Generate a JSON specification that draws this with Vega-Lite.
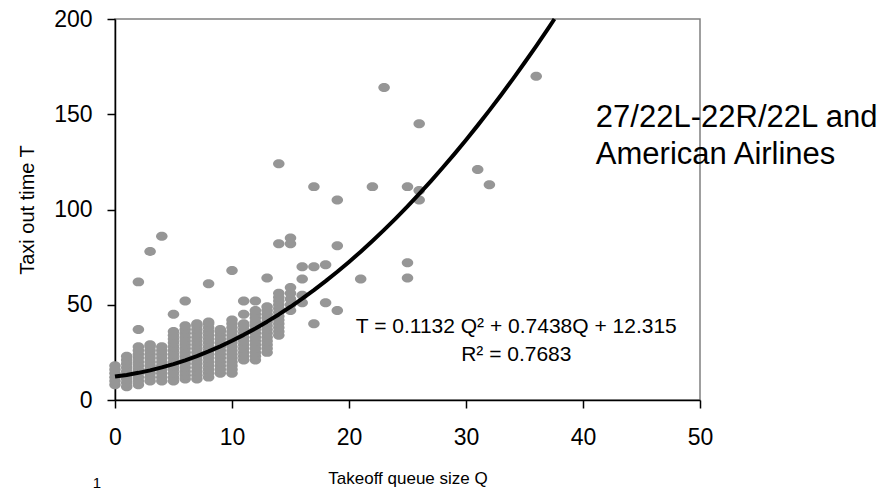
{
  "$schema": "https://vega.github.io/schema/vega-lite/v6.json",
  "width": 585,
  "height": 381,
  "autosize": {"type": "none"},
  "padding": {"left": 115, "top": 19, "right": 186, "bottom": 91},
  "background": "white",
  "config": {
    "font": "Liberation Sans",
    "view": {"stroke": "#808080", "strokeWidth": 1.5},
    "axis": {
      "domainColor": "black", "domainWidth": 1.5,
      "tickColor": "black", "tickWidth": 1.5, "tickSize": 8,
      "grid": false,
      "labelFont": "Liberation Sans", "labelFontSize": 23, "labelColor": "black",
      "titleFont": "Liberation Sans", "titleFontSize": 17, "titleFontWeight": "normal", "titleColor": "black"
    }
  },
  "layer": [
    {
      "data": {"values": [
        {"Q":0,"T":8},{"Q":0,"T":10},{"Q":0,"T":12},{"Q":0,"T":14},{"Q":0,"T":16},{"Q":0,"T":18},
        {"Q":1,"T":7},{"Q":1,"T":9},{"Q":1,"T":11},{"Q":1,"T":13},{"Q":1,"T":15},{"Q":1,"T":17},{"Q":1,"T":19},{"Q":1,"T":21},{"Q":1,"T":23},
        {"Q":2,"T":8},{"Q":2,"T":10},{"Q":2,"T":12},{"Q":2,"T":14},{"Q":2,"T":16},{"Q":2,"T":18},{"Q":2,"T":20},{"Q":2,"T":22},{"Q":2,"T":24},{"Q":2,"T":26},{"Q":2,"T":28},{"Q":2,"T":37},{"Q":2,"T":62},
        {"Q":3,"T":10},{"Q":3,"T":12},{"Q":3,"T":14},{"Q":3,"T":16},{"Q":3,"T":18},{"Q":3,"T":20},{"Q":3,"T":22},{"Q":3,"T":24},{"Q":3,"T":26},{"Q":3,"T":28},{"Q":3,"T":29},{"Q":3,"T":78},
        {"Q":4,"T":10},{"Q":4,"T":12},{"Q":4,"T":14},{"Q":4,"T":16},{"Q":4,"T":18},{"Q":4,"T":20},{"Q":4,"T":22},{"Q":4,"T":24},{"Q":4,"T":26},{"Q":4,"T":28},{"Q":4,"T":86},
        {"Q":5,"T":10},{"Q":5,"T":12},{"Q":5,"T":14},{"Q":5,"T":16},{"Q":5,"T":18},{"Q":5,"T":20},{"Q":5,"T":22},{"Q":5,"T":24},{"Q":5,"T":26},{"Q":5,"T":28},{"Q":5,"T":30},{"Q":5,"T":32},{"Q":5,"T":34},{"Q":5,"T":36},{"Q":5,"T":45},
        {"Q":6,"T":11},{"Q":6,"T":13},{"Q":6,"T":15},{"Q":6,"T":17},{"Q":6,"T":19},{"Q":6,"T":21},{"Q":6,"T":23},{"Q":6,"T":25},{"Q":6,"T":27},{"Q":6,"T":29},{"Q":6,"T":31},{"Q":6,"T":33},{"Q":6,"T":35},{"Q":6,"T":37},{"Q":6,"T":39},{"Q":6,"T":52},
        {"Q":7,"T":11},{"Q":7,"T":13},{"Q":7,"T":15},{"Q":7,"T":17},{"Q":7,"T":19},{"Q":7,"T":21},{"Q":7,"T":23},{"Q":7,"T":25},{"Q":7,"T":27},{"Q":7,"T":29},{"Q":7,"T":31},{"Q":7,"T":33},{"Q":7,"T":35},{"Q":7,"T":37},{"Q":7,"T":39},{"Q":7,"T":40},
        {"Q":8,"T":12},{"Q":8,"T":14},{"Q":8,"T":16},{"Q":8,"T":18},{"Q":8,"T":20},{"Q":8,"T":22},{"Q":8,"T":24},{"Q":8,"T":26},{"Q":8,"T":28},{"Q":8,"T":30},{"Q":8,"T":32},{"Q":8,"T":34},{"Q":8,"T":36},{"Q":8,"T":38},{"Q":8,"T":40},{"Q":8,"T":41},{"Q":8,"T":61},
        {"Q":9,"T":14},{"Q":9,"T":16},{"Q":9,"T":18},{"Q":9,"T":20},{"Q":9,"T":22},{"Q":9,"T":24},{"Q":9,"T":26},{"Q":9,"T":28},{"Q":9,"T":30},{"Q":9,"T":32},{"Q":9,"T":34},{"Q":9,"T":36},{"Q":9,"T":37},
        {"Q":10,"T":14},{"Q":10,"T":16},{"Q":10,"T":18},{"Q":10,"T":20},{"Q":10,"T":22},{"Q":10,"T":24},{"Q":10,"T":26},{"Q":10,"T":28},{"Q":10,"T":30},{"Q":10,"T":32},{"Q":10,"T":34},{"Q":10,"T":36},{"Q":10,"T":38},{"Q":10,"T":40},{"Q":10,"T":42},{"Q":10,"T":68},
        {"Q":11,"T":21},{"Q":11,"T":23},{"Q":11,"T":25},{"Q":11,"T":27},{"Q":11,"T":29},{"Q":11,"T":31},{"Q":11,"T":33},{"Q":11,"T":35},{"Q":11,"T":37},{"Q":11,"T":39},{"Q":11,"T":40},{"Q":11,"T":45},{"Q":11,"T":52},
        {"Q":12,"T":21},{"Q":12,"T":23},{"Q":12,"T":25},{"Q":12,"T":27},{"Q":12,"T":29},{"Q":12,"T":31},{"Q":12,"T":33},{"Q":12,"T":35},{"Q":12,"T":37},{"Q":12,"T":39},{"Q":12,"T":41},{"Q":12,"T":43},{"Q":12,"T":45},{"Q":12,"T":47},{"Q":12,"T":52},
        {"Q":13,"T":25},{"Q":13,"T":27},{"Q":13,"T":29},{"Q":13,"T":31},{"Q":13,"T":33},{"Q":13,"T":35},{"Q":13,"T":37},{"Q":13,"T":39},{"Q":13,"T":41},{"Q":13,"T":43},{"Q":13,"T":45},{"Q":13,"T":47},{"Q":13,"T":49},{"Q":13,"T":64},
        {"Q":14,"T":34},{"Q":14,"T":36},{"Q":14,"T":38},{"Q":14,"T":40},{"Q":14,"T":42},{"Q":14,"T":44},{"Q":14,"T":46},{"Q":14,"T":48},{"Q":14,"T":50},{"Q":14,"T":52},{"Q":14,"T":54},{"Q":14,"T":56},{"Q":14,"T":82},{"Q":14,"T":124},
        {"Q":15,"T":47},{"Q":15,"T":50},{"Q":15,"T":53},{"Q":15,"T":56},{"Q":15,"T":59},{"Q":15,"T":82},{"Q":15,"T":85},
        {"Q":16,"T":51},{"Q":16,"T":55},{"Q":16,"T":63.5},{"Q":16,"T":70},
        {"Q":17,"T":40},{"Q":17,"T":70},{"Q":17,"T":112},
        {"Q":18,"T":51},{"Q":18,"T":71},
        {"Q":19,"T":47},{"Q":19,"T":81},{"Q":19,"T":105},
        {"Q":21,"T":63.5},
        {"Q":22,"T":112},
        {"Q":23,"T":164},
        {"Q":25,"T":64},{"Q":25,"T":72},{"Q":25,"T":112},
        {"Q":26,"T":105},{"Q":26,"T":110},{"Q":26,"T":145},
        {"Q":31,"T":121},
        {"Q":32,"T":113},
        {"Q":36,"T":170}
      ]},
      "mark": {"type": "point", "shape": "M-1,0A1,0.78,0,1,1,1,0A1,0.78,0,1,1,-1,0Z", "filled": true, "color": "#969696", "opacity": 1, "size": 132, "strokeWidth": 0},
      "encoding": {
        "x": {"field": "Q", "type": "quantitative", "scale": {"domain": [0, 50], "nice": false},
              "axis": {"values": [0, 10, 20, 30, 40, 50], "title": "Takeoff queue size Q", "labelPadding": 18, "titlePadding": 21, "labelFlush": false}},
        "y": {"field": "T", "type": "quantitative", "scale": {"domain": [0, 200], "nice": false},
              "axis": {"values": [0, 50, 100, 150, 200], "title": "Taxi out time T", "titleFontSize": 20, "labelPadding": 15, "titlePadding": 16}}
      }
    },
    {
      "data": {"values": [
        {"Q":0,"T":12.32},{"Q":1,"T":13.17},{"Q":2,"T":14.26},{"Q":3,"T":15.57},{"Q":4,"T":17.10},{"Q":5,"T":18.86},
        {"Q":6,"T":20.85},{"Q":7,"T":23.07},{"Q":8,"T":25.51},{"Q":9,"T":28.18},{"Q":10,"T":31.07},{"Q":11,"T":34.19},
        {"Q":12,"T":37.54},{"Q":13,"T":41.12},{"Q":14,"T":44.92},{"Q":15,"T":48.94},{"Q":16,"T":53.20},{"Q":17,"T":57.67},
        {"Q":18,"T":62.38},{"Q":19,"T":67.31},{"Q":20,"T":72.47},{"Q":21,"T":77.86},{"Q":22,"T":83.47},{"Q":23,"T":89.31},
        {"Q":24,"T":95.37},{"Q":25,"T":101.66},{"Q":26,"T":108.18},{"Q":27,"T":114.92},{"Q":28,"T":121.89},{"Q":29,"T":129.09},
        {"Q":30,"T":136.51},{"Q":31,"T":144.16},{"Q":32,"T":152.03},{"Q":33,"T":160.14},{"Q":34,"T":168.46},{"Q":35,"T":177.02},
        {"Q":36,"T":185.80},{"Q":37,"T":194.81},{"Q":37.56,"T":200}
      ]},
      "mark": {"type": "line", "color": "black", "strokeWidth": 4, "strokeJoin": "round"},
      "encoding": {
        "x": {"field": "Q", "type": "quantitative"},
        "y": {"field": "T", "type": "quantitative"}
      }
    },
    {
      "data": {"values": [
        {"Q": 34.3, "T": 38.3, "label": "T = 0.1132 Q² + 0.7438Q + 12.315"},
        {"Q": 34.3, "T": 23.6, "label": "R² = 0.7683"}
      ]},
      "mark": {"type": "text", "align": "center", "baseline": "middle", "fontSize": 21, "color": "black", "font": "Liberation Sans"},
      "encoding": {
        "x": {"field": "Q", "type": "quantitative"},
        "y": {"field": "T", "type": "quantitative"},
        "text": {"field": "label"}
      }
    },
    {
      "data": {"values": [
        {"Q": 41.1, "T": 143.3, "label": "27/22L-22R/22L and\nAmerican Airlines"}
      ]},
      "mark": {"type": "text", "align": "left", "baseline": "alphabetic", "fontSize": 31, "lineHeight": 37, "lineBreak": "\n", "color": "black", "font": "Liberation Sans"},
      "encoding": {
        "x": {"field": "Q", "type": "quantitative"},
        "y": {"field": "T", "type": "quantitative"},
        "text": {"field": "label"}
      }
    },
    {
      "data": {"values": [
        {"Q": -1.54, "T": -43.6, "label": "1"}
      ]},
      "mark": {"type": "text", "align": "center", "baseline": "middle", "fontSize": 15, "color": "black", "font": "Liberation Sans"},
      "encoding": {
        "x": {"field": "Q", "type": "quantitative"},
        "y": {"field": "T", "type": "quantitative"},
        "text": {"field": "label"}
      }
    }
  ]
}
